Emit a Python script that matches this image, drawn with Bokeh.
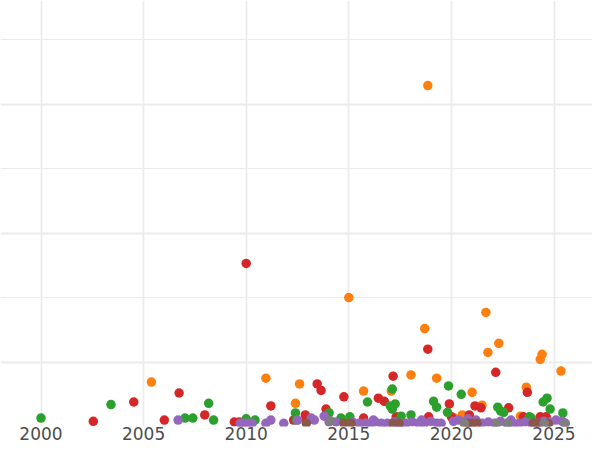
from bokeh.plotting import figure
from bokeh.models import Range1d, FixedTicker
from bokeh.embed import file_html
from bokeh.resources import INLINE

# ---- data (year, value) per series ----
green_x = [2000.0, 2003.41, 2007.02, 2007.40, 2008.17, 2008.41, 2010.0, 2010.43, 2012.40, 2012.45,
           2014.04, 2014.62, 2015.05, 2015.91, 2017.12, 2017.02, 2017.26, 2017.12, 2017.55, 2018.03,
           2019.13, 2019.28, 2019.86, 2019.81, 2020.48, 2022.26, 2022.40, 2022.55, 2023.80, 2023.89,
           2024.47, 2024.66, 2024.81, 2025.43]
green_y = [0.13, 0.34, 0.13, 0.13, 0.36, 0.10, 0.12, 0.10, 0.21, 0.10,
           0.21, 0.13, 0.15, 0.38, 0.58, 0.32, 0.35, 0.27, 0.16, 0.18,
           0.39, 0.30, 0.63, 0.22, 0.50, 0.30, 0.24, 0.22, 0.15, 0.13,
           0.38, 0.44, 0.27, 0.21]

orange_x = [2005.38, 2010.96, 2012.60, 2012.40, 2015.0, 2015.72, 2017.07, 2018.03, 2018.70, 2018.85,
            2019.28, 2021.01, 2021.49, 2021.68, 2021.78, 2022.31, 2023.65, 2024.33, 2024.42, 2025.34,
            2023.37, 2020.53, 2020.14]
orange_y = [0.69, 0.75, 0.66, 0.36, 2.0, 0.55, 0.55, 0.80, 1.52, 5.29,
            0.75, 0.53, 0.33, 1.77, 1.15, 1.29, 0.61, 1.04, 1.12, 0.86,
            0.16, 0.18, 0.13]

red_x = [2002.55, 2004.52, 2006.01, 2006.73, 2007.98, 2009.42, 2009.66, 2010.0, 2011.20, 2012.31,
         2012.88, 2012.93, 2013.46, 2013.65, 2013.89, 2014.76, 2015.72, 2016.44, 2016.73, 2017.16,
         2018.85, 2018.89, 2019.90, 2020.0, 2020.87, 2021.15, 2021.44, 2022.16, 2022.79, 2023.70,
         2023.51, 2024.33, 2024.62, 2017.31]
red_y = [0.08, 0.38, 0.10, 0.52, 0.18, 0.07, 0.07, 2.53, 0.32, 0.10,
         0.18, 0.10, 0.66, 0.56, 0.27, 0.46, 0.13, 0.44, 0.39, 0.78,
         1.20, 0.15, 0.35, 0.15, 0.18, 0.32, 0.29, 0.84, 0.29, 0.53,
         0.15, 0.15, 0.15, 0.15]

purple_x = [2006.68, 2009.71, 2009.90, 2010.10, 2010.29, 2010.96, 2011.20, 2011.83, 2012.50, 2013.17,
            2013.32, 2013.80, 2014.04, 2014.38, 2015.19, 2015.50, 2015.80, 2016.06, 2016.30, 2016.59,
            2016.88, 2017.20, 2017.50, 2017.80, 2018.10, 2018.40, 2018.70, 2019.00, 2019.30, 2019.50,
            2020.10, 2020.35, 2020.60, 2020.90, 2021.20, 2021.50, 2021.80, 2022.10, 2022.40, 2022.70,
            2023.00, 2023.30, 2023.60, 2023.90, 2024.20, 2024.50, 2024.80, 2025.10, 2025.40, 2025.55,
            2016.20, 2018.55, 2020.80, 2022.90]
purple_y = [0.10, 0.05, 0.05, 0.05, 0.05, 0.05, 0.10, 0.05, 0.10, 0.13,
            0.10, 0.16, 0.07, 0.07, 0.07, 0.05, 0.05, 0.05, 0.07, 0.05,
            0.05, 0.07, 0.05, 0.05, 0.07, 0.05, 0.05, 0.08, 0.05, 0.05,
            0.08, 0.10, 0.07, 0.05, 0.10, 0.05, 0.07, 0.05, 0.08, 0.05,
            0.05, 0.05, 0.07, 0.05, 0.05, 0.08, 0.07, 0.10, 0.08, 0.05,
            0.10, 0.10, 0.12, 0.10]

brown_x = [2012.93, 2014.76, 2015.10, 2017.16, 2017.45, 2020.77, 2021.25, 2021.00, 2023.99, 2024.23,
           2024.71]
brown_y = [0.05, 0.05, 0.05, 0.05, 0.05, 0.05, 0.05, 0.05, 0.05, 0.05,
           0.05]

grey_x = [2014.09, 2020.63, 2022.21, 2022.74, 2024.52, 2025.53]
grey_y = [0.09, 0.05, 0.05, 0.05, 0.05, 0.05]

x_ticks = [2000, 2005, 2010, 2015, 2020, 2025]
y_major = [1, 3, 5]
y_minor = [2, 4, 6]

p = figure(width=592, height=442, output_backend="svg", toolbar_location=None,
           x_range=Range1d(1998.026, 2026.876), y_range=Range1d(0, 6.61),
           min_border_left=0, min_border_right=0, min_border_top=0, min_border_bottom=0)
p.outline_line_color = None
p.background_fill_color = "white"
p.border_fill_color = "white"

p.yaxis.visible = False
p.xaxis.ticker = FixedTicker(ticks=x_ticks)
p.xaxis.axis_line_color = None
p.xaxis.major_tick_line_color = None
p.xaxis.minor_tick_line_color = None
p.xaxis.major_tick_out = 0
p.xaxis.major_tick_in = 0
p.xaxis.major_label_standoff = 0
p.xaxis.major_label_text_font = "DejaVu Sans"
p.xaxis.major_label_text_font_size = "17px"
p.xaxis.major_label_text_color = "#4d4d4d"

p.xgrid.ticker = FixedTicker(ticks=x_ticks)
p.xgrid.grid_line_color = "#ebebeb"
p.xgrid.grid_line_width = 1.7
p.ygrid.ticker = FixedTicker(ticks=y_major, minor_ticks=y_minor)
p.ygrid.grid_line_color = "#ebebeb"
p.ygrid.grid_line_width = 2
p.ygrid.minor_grid_line_color = "#ebebeb"
p.ygrid.minor_grid_line_width = 1

S = 9.5
p.scatter(orange_x, orange_y, size=S, color="#ff7f0e", line_width=0)
p.scatter(red_x, red_y, size=S, color="#d62728", line_width=0)
p.scatter(green_x, green_y, size=S, color="#2ca02c", line_width=0)
p.scatter(purple_x, purple_y, size=S, color="#9467bd", line_width=0)
p.scatter(brown_x, brown_y, size=S, color="#8c564b", line_width=0)
p.scatter(grey_x, grey_y, size=S, color="#7f7f7f", line_width=0)

open("out.html", "w").write(file_html(p, INLINE))
